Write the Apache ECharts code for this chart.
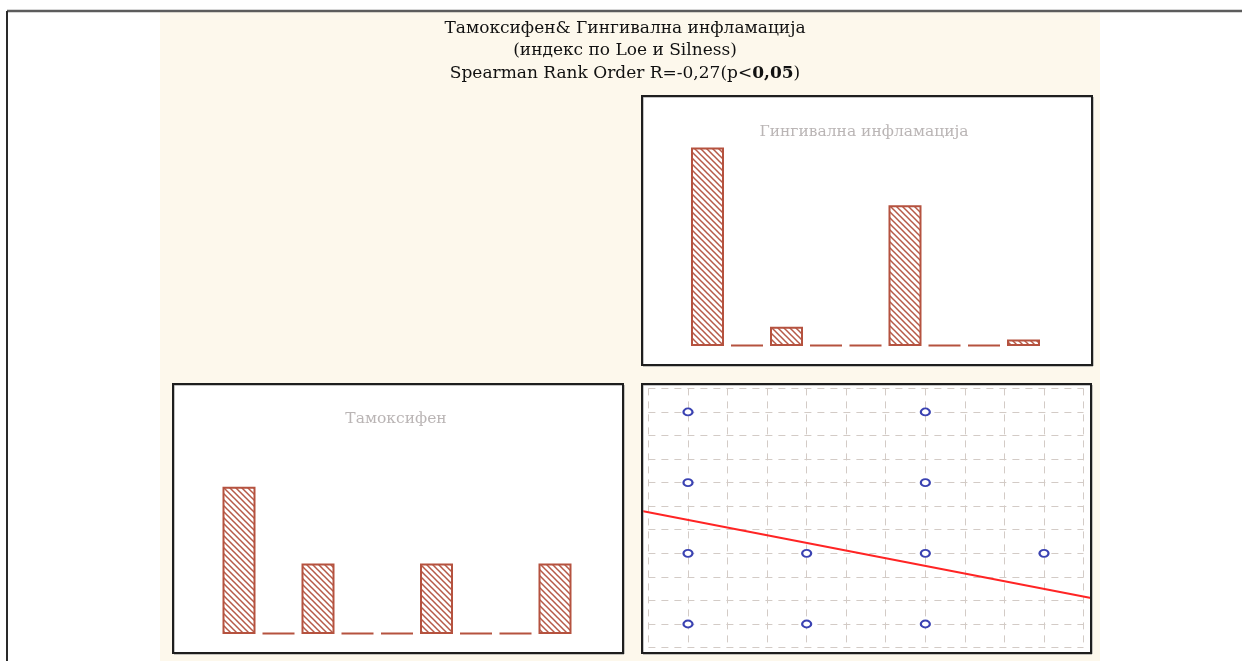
<!DOCTYPE html>
<html>
<head>
<meta charset="utf-8">
<script src="https://cdn.jsdelivr.net/npm/echarts@6/dist/echarts.min.js"></script>
<style>
html,body{margin:0;padding:0;background:#fff;}
#main{width:1242px;height:661px;}
</style>
</head>
<body>
<div id="main"></div>
<script>
// ---- data ----
var titleLines = ['Тамоксифен& Гингивална инфламација', '(индекс по Loe и Silness)', 'Spearman Rank Order R=-0,27(p<{b|0,05})'];
var gingivalTitle = 'Гингивална инфламација';
var tamoxTitle = 'Тамоксифен';
var bins = ['1', '2', '3', '4', '5', '6', '7', '8', '9'];
var gingivalCounts = [31, 0, 3, 0, 0, 22, 0, 0, 1];
var tamoxCounts = [23, 0, 11, 0, 0, 11, 0, 0, 11];
var scatterPoints = [[0, 3], [2, 3], [0, 2], [2, 2], [0, 1], [1, 1], [2, 1], [3, 1], [0, 0], [1, 0], [2, 0]];
var regressionLine = [[-0.388, 1.60], [3.396, 0.368]];

// ---- hatch pattern ----
function makeHatch() {
  var c = document.createElement('canvas');
  var s = 6;
  c.width = s; c.height = s;
  var ctx = c.getContext('2d');
  ctx.fillStyle = '#ffffff';
  ctx.fillRect(0, 0, s, s);
  ctx.strokeStyle = '#b65a48';
  ctx.lineWidth = 1.5;
  ctx.beginPath();
  ctx.moveTo(-1, -1); ctx.lineTo(s + 1, s + 1);
  ctx.moveTo(-1, s - 1); ctx.lineTo(1, s + 1);
  ctx.moveTo(s - 1, -1); ctx.lineTo(s + 1, 1);
  ctx.stroke();
  return c;
}
var hatch = makeHatch();
var barBorder = '#b5523f';
var gridColor = '#d3cbc6';

var chart = echarts.init(document.getElementById('main'), null, {renderer: 'canvas'});

function panel(x, y, w, h) {
  return [
    {type: 'rect', z: -5, shape: {x: x, y: y, width: w, height: h}, style: {fill: '#ffffff', stroke: null}},
    {type: 'rect', z: 100, shape: {x: x + 1, y: y + 1, width: w, height: h}, style: {fill: null, stroke: '#8a8a8a', lineWidth: 1}},
    {type: 'rect', z: 101, shape: {x: x, y: y, width: w, height: h}, style: {fill: null, stroke: '#1e1e1e', lineWidth: 2}}
  ];
}

var graphics = [
  {type: 'rect', z: -10, shape: {x: 160, y: 12, width: 940, height: 660}, style: {fill: '#fdf8ec'}},
  {type: 'line', z: 50, shape: {x1: 7, y1: 11, x2: 1242, y2: 11}, style: {stroke: '#5c5c5c', lineWidth: 2.5}},
  {type: 'line', z: 50, shape: {x1: 7, y1: 11, x2: 7, y2: 661}, style: {stroke: '#2a2a2a', lineWidth: 2}}
].concat(panel(642, 96, 450, 269), panel(173, 384, 450, 269), panel(642, 384, 449, 269));

var titleFont = '17px "DejaVu Serif", "Liberation Serif", serif';
var titleYs = [29, 51, 74];
titleLines.forEach(function (t, i) {
  graphics.push({
    type: 'text', z: 60,
    style: {
      text: t, x: 625, y: titleYs[i], textAlign: 'center', textVerticalAlign: 'middle',
      font: titleFont, fill: '#111',
      rich: {b: {font: 'bold 17px "DejaVu Serif", serif', fill: '#111'}}
    }
  });
});
graphics.push({type: 'text', z: 60, style: {text: gingivalTitle, x: 864, y: 132, textAlign: 'center', textVerticalAlign: 'middle', font: '15.5px "DejaVu Serif", serif', fill: '#bab5b5'}});
graphics.push({type: 'text', z: 60, style: {text: tamoxTitle, x: 396, y: 419, textAlign: 'center', textVerticalAlign: 'middle', font: '15.5px "DejaVu Serif", serif', fill: '#bab5b5'}});

var hidden = {axisLine: {show: false}, axisTick: {show: false}, axisLabel: {show: false}, splitLine: {show: false}};
function ext(o) { var r = {}; for (var k in hidden) r[k] = hidden[k]; for (var k2 in o) r[k2] = o[k2]; return r; }

var gridSplit = {show: true, lineStyle: {color: gridColor, type: [7, 6], width: 1}};

var option = {
  animation: false,
  backgroundColor: '#ffffff',
  graphic: graphics,
  grid: [
    {left: 687.75, top: 122, width: 355.5, height: 224},
    {left: 219.25, top: 410, width: 355.5, height: 224},
    // gridline lattice (inset)
    {left: 648.4, top: 388.4, width: 435.1, height: 259.1},
    // full scatter panel for points and fitted line
    {left: 642, top: 384, width: 449, height: 269}
  ],
  xAxis: [
    ext({type: 'category', gridIndex: 0, data: bins, boundaryGap: true}),
    ext({type: 'category', gridIndex: 1, data: bins, boundaryGap: true}),
    ext({type: 'value', gridIndex: 2, min: -1 / 3, max: 10 / 3, interval: 1 / 3, splitLine: gridSplit}),
    ext({type: 'value', gridIndex: 3, min: -0.3876, max: 3.396})
  ],
  yAxis: [
    ext({type: 'value', gridIndex: 0, min: 0, max: 35}),
    ext({type: 'value', gridIndex: 1, min: 0, max: 35}),
    ext({type: 'value', gridIndex: 2, min: -1 / 3, max: 10 / 3, interval: 1 / 3, splitLine: gridSplit}),
    ext({type: 'value', gridIndex: 3, min: -0.4104, max: 3.396})
  ],
  series: [
    {
      type: 'bar', xAxisIndex: 0, yAxisIndex: 0, data: gingivalCounts, barWidth: 33, barMinHeight: 1,
      itemStyle: {color: {image: hatch, repeat: 'repeat'}, borderColor: barBorder, borderWidth: 2}
    },
    {
      type: 'bar', xAxisIndex: 1, yAxisIndex: 1, data: tamoxCounts, barWidth: 33, barMinHeight: 1,
      itemStyle: {color: {image: hatch, repeat: 'repeat'}, borderColor: barBorder, borderWidth: 2}
    },
    {
      type: 'line', xAxisIndex: 3, yAxisIndex: 3, data: regressionLine, showSymbol: false,
      symbol: 'none', z: 3, lineStyle: {color: '#ff2424', width: 2}
    },
    {
      type: 'scatter', xAxisIndex: 3, yAxisIndex: 3, data: scatterPoints, symbol: 'circle', symbolSize: [9, 7], z: 4,
      itemStyle: {color: '#ffffff', borderColor: '#3a42b2', borderWidth: 2, opacity: 1}
    }
  ]
};
chart.setOption(option);
</script>
</body>
</html>
